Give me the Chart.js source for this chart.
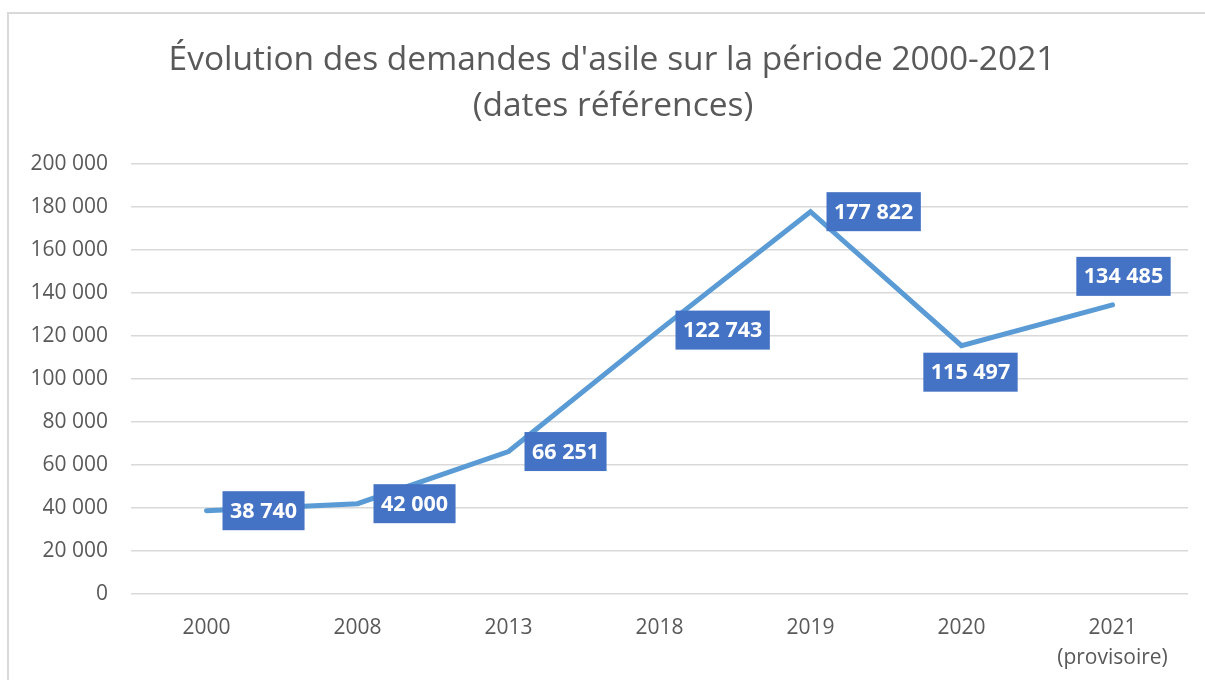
<!DOCTYPE html>
<html>
<head>
<meta charset="utf-8">
<script src="https://cdn.jsdelivr.net/npm/chart.js@4.4.0/dist/chart.umd.min.js"></script>
<style>
    html, body { margin: 0; padding: 0; background: #fff; }
    #wrap { position: relative; width: 1205px; height: 680px; }
</style>
</head>
<body>
<div id="wrap"><canvas id="asileChart" width="1205" height="680"></canvas></div>
<script>
        // Data
        const years = ['2000', '2008', '2013', '2018', '2019', '2020', ['2021', '(provisoire)']];
        const demandes = [38740, 42000, 66251, 122743, 177822, 115497, 134485];
        const labelPlacement = ['right', 'right', 'right', 'right', 'right', 'below', 'above'];
        const titleLines = ["Évolution des demandes d'asile sur la période 2000-2021", '(dates références)'];

        const FONT = "'Open Sans', 'Liberation Sans', sans-serif";
        const GREY = '#595959';

        function fmt(n) {
            return n.toString().replace(/\B(?=(\d{3})+(?!\d))/g, ' ');
        }

        // Light frame around the chart + title (centred on the frame, not the plot)
        const framePlugin = {
            id: 'frame',
            beforeDraw(chart) {
                const ctx = chart.ctx;
                ctx.save();
                ctx.strokeStyle = '#d9d9d9';
                ctx.lineWidth = 2;
                ctx.beginPath();
                ctx.moveTo(8, chart.height);
                ctx.lineTo(8, 13);
                ctx.lineTo(chart.width, 13);
                ctx.stroke();

                ctx.fillStyle = GREY;
                ctx.font = '33.5px ' + FONT;
                ctx.textAlign = 'center';
                ctx.textBaseline = 'middle';
                ctx.fillText(titleLines[0], 612, 60);
                ctx.fillText(titleLines[1], 613, 106);
                ctx.restore();
            }
        };

        // Boxed value labels
        const boxLabels = {
            id: 'boxLabels',
            afterDatasetsDraw(chart) {
                const ctx = chart.ctx;
                const meta = chart.getDatasetMeta(0);
                ctx.save();
                ctx.font = 'bold 21.5px ' + FONT;
                ctx.textBaseline = 'middle';
                ctx.textAlign = 'center';
                meta.data.forEach((pt, i) => {
                    const txt = fmt(demandes[i]);
                    const w = ctx.measureText(txt).width + 15;
                    const h = 39;
                    let bx, by;
                    if (labelPlacement[i] === 'right') {
                        bx = pt.x + 16;
                        by = pt.y - h / 2;
                    } else if (labelPlacement[i] === 'below') {
                        bx = pt.x + 9 - w / 2;
                        by = pt.y + 7;
                    } else {
                        bx = pt.x + 11 - w / 2;
                        by = pt.y - 9 - h;
                    }
                    ctx.fillStyle = '#4472c4';
                    ctx.fillRect(bx, by, w, h);
                    ctx.fillStyle = '#ffffff';
                    ctx.fillText(txt, bx + w / 2, by + h / 2 + 1);
                });
                ctx.restore();
            }
        };

        const ctx = document.getElementById('asileChart').getContext('2d');
        new Chart(ctx, {
            type: 'line',
            data: {
                labels: years,
                datasets: [{
                    label: 'Demandes d\'asile',
                    data: demandes,
                    borderColor: '#5b9bd5',
                    borderWidth: 5,
                    borderCapStyle: 'round',
                    borderJoinStyle: 'miter',
                    pointRadius: 0,
                    tension: 0
                }]
            },
            options: {
                responsive: false,
                animation: false,
                layout: { padding: { left: 0, right: 17, top: 164, bottom: 0 } },
                plugins: {
                    legend: { display: false },
                    tooltip: { enabled: false },
                    title: { display: false }
                },
                scales: {
                    x: {
                        offset: true,
                        grid: { display: false, drawTicks: false },
                        border: { display: false },
                        ticks: {
                            color: GREY,
                            font: { family: FONT, size: 21, lineHeight: 1.43 },
                            padding: 19,
                            maxRotation: 0
                        },
                        afterFit(scale) { scale.height = 86; }
                    },
                    y: {
                        min: 0,
                        max: 200000,
                        grid: { color: '#d9d9d9', lineWidth: 1.5, drawTicks: false },
                        border: { display: false },
                        ticks: {
                            stepSize: 20000,
                            color: GREY,
                            font: { family: FONT, size: 21 },
                            padding: 23,
                            callback: v => fmt(v)
                        },
                        afterFit(scale) { scale.width = 131; }
                    }
                }
            },
            plugins: [framePlugin, boxLabels]
        });
</script>
</body>
</html>
